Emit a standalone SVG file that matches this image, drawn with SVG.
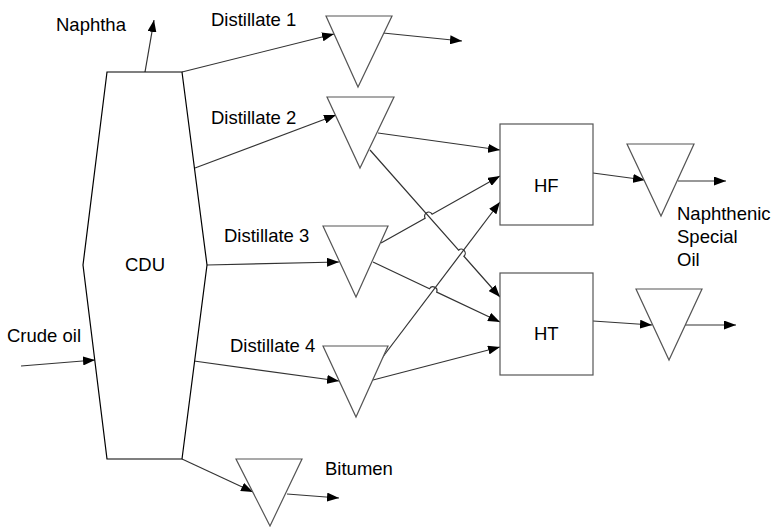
<svg xmlns="http://www.w3.org/2000/svg" width="772" height="527" viewBox="0 0 772 527">
<defs>
<marker id="arr" markerUnits="userSpaceOnUse" markerWidth="12" markerHeight="9" refX="12" refY="4.5" orient="auto">
<path d="M0,0 L12,4.5 L0,9 z" fill="#000"/>
</marker>
<style>
.shape{fill:#fff;stroke:#555;stroke-width:1.2}
.cdu{fill:#fff;stroke:#000;stroke-width:1.2}
.ln{fill:none;stroke:#333;stroke-width:1.2;marker-end:url(#arr)}
text{font-family:"Liberation Sans",Arial,sans-serif;font-size:18.5px;fill:#000}
</style>
</defs>
<rect width="772" height="527" fill="#fff"/>
<g id="connectors">
<path class="ln" d="M145,72 L154,20"/>
<path class="ln" d="M21,366 L95,360"/>
<path class="ln" d="M182,72 L334,34"/>
<path class="ln" d="M383,33 L462,41"/>
<path class="ln" d="M195,168 L336,115"/>
<path class="ln" d="M378,133 L500,150"/>
<path class="ln" d="M370,150 L458.6,250.2 A4,4 0 0 1 463.9,256.2 L500,297"/>
<path class="ln" d="M207,265 L339,262"/>
<path class="ln" d="M381,243 L425.1,218.2 A4,4 0 0 1 432.1,214.2 L500,176"/>
<path class="ln" d="M373,262 L429.5,288.7 A4,4 0 0 1 436.7,292.1 L500,322"/>
<path class="ln" d="M194,361 L339,381"/>
<path class="ln" d="M382,358 L500,202"/>
<path class="ln" d="M373,380 L500,347"/>
<path class="ln" d="M182,459 L253,492"/>
<path class="ln" d="M287,494 L339,498"/>
<path class="ln" d="M593,173 L645,180"/>
<path class="ln" d="M678,181 L726,181"/>
<path class="ln" d="M593,321 L652,325"/>
<path class="ln" d="M685,325 L736,325"/>
</g>
<g id="cdu">
<polygon class="cdu" points="107,72 182,72 207,265 182,459 107,459 83,265"/>
<text x="125" y="271">CDU</text>
</g>
<g id="t1"><polygon class="shape" points="326,16 392,16 358,87"/></g>
<g id="t2"><polygon class="shape" points="327,97 394,97 360,168"/></g>
<g id="t3"><polygon class="shape" points="323,226 388,226 356,297"/></g>
<g id="t4"><polygon class="shape" points="323,346 388,346 356,417"/></g>
<g id="t5"><polygon class="shape" points="236,459 302,459 270,526"/></g>
<g id="t6"><polygon class="shape" points="627,144 694,144 661,216"/></g>
<g id="t7"><polygon class="shape" points="636,289 702,289 669,360"/></g>
<g id="hf"><rect class="shape" x="500" y="124" width="93" height="101"/><text x="534" y="192">HF</text></g>
<g id="ht"><rect class="shape" x="500" y="273" width="93" height="102"/><text x="534" y="340">HT</text></g>
<g id="labels">
<text x="56" y="31">Naphtha</text>
<text x="211" y="26">Distillate 1</text>
<text x="211" y="124">Distillate 2</text>
<text x="224" y="242">Distillate 3</text>
<text x="230" y="352">Distillate 4</text>
<text x="7" y="342">Crude oil</text>
<text x="325" y="475">Bitumen</text>
<text x="677" y="220">Naphthenic</text>
<text x="677" y="243">Special</text>
<text x="677" y="266">Oil</text>
</g>
</svg>
